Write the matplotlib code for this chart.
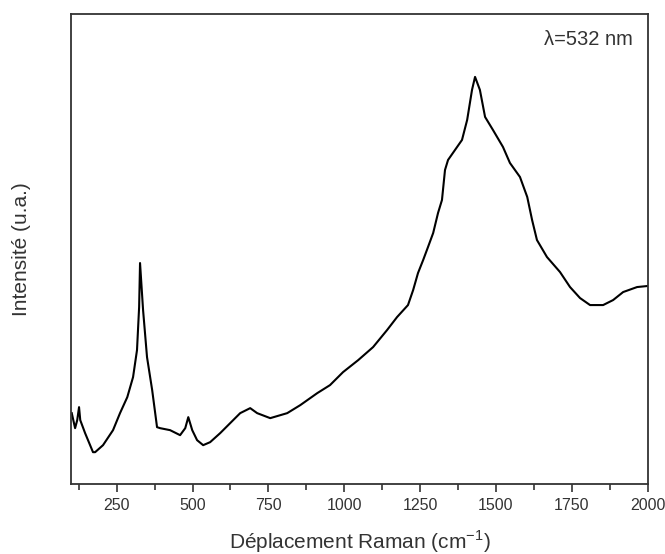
import numpy as np
import matplotlib
matplotlib.use("Agg")
import matplotlib.pyplot as plt
from matplotlib.ticker import MultipleLocator

plt.rcParams['font.family'] = ['Liberation Sans', 'DejaVu Sans']

# Raman shift (cm-1) and intensity (a.u.)
shift = [102, 113, 120, 126, 130, 146, 172, 179, 205, 238, 261, 285, 304, 317,
         324, 327, 337, 350, 367, 383, 393, 426, 459, 476, 486, 499, 515, 535,
         558, 591, 624, 657, 690, 713, 756, 812, 855, 911, 953, 996, 1046, 1095,
         1141, 1174, 1210, 1227, 1243, 1260, 1276, 1293, 1309, 1322, 1332, 1342,
         1365, 1388, 1405, 1421, 1431, 1447, 1464, 1490, 1523, 1546, 1579, 1603,
         1619, 1635, 1668, 1711, 1744, 1777, 1810, 1853, 1886, 1919, 1965, 1998]
intensity = [71, 56, 64, 77, 64, 51, 32, 32, 39, 54, 71, 87, 107, 134,
             177, 221, 174, 127, 94, 57, 56, 54, 49, 56, 67, 54, 44, 39,
             42, 51, 61, 71, 76, 71, 66, 71, 79, 91, 99, 112, 124, 137,
             154, 167, 179, 194, 211, 224, 237, 251, 271, 284, 314, 324,
             334, 344, 364, 394, 407, 394, 367, 354, 337, 321, 307, 287,
             264, 244, 227, 212, 197, 186, 179, 179, 184, 192, 197, 198]

txt = '#333333'

fig = plt.figure(figsize=(6.65, 5.54), dpi=100)
ax = fig.add_axes([0.107, 0.126, 0.867, 0.849])

ax.plot(shift, intensity, color='black', lw=1.5)

ax.set_xlim(100, 2000)
ax.set_ylim(0, 470)
ax.xaxis.set_major_locator(MultipleLocator(250))
ax.xaxis.set_minor_locator(MultipleLocator(125))
ax.set_yticks([])
ax.tick_params(axis='x', which='major', direction='out', length=6, width=1.2,
               colors=txt, labelsize=11.5, pad=4)
ax.tick_params(axis='x', which='minor', direction='out', length=4, width=1.2, colors=txt)
for s in ax.spines.values():
    s.set_color('#333333')
    s.set_linewidth(1.3)

ax.set_xlabel('Déplacement Raman (cm$^{\\mathregular{-1}}$)', fontsize=15, color=txt)
ax.xaxis.set_label_coords(0.5, -0.095)
ax.set_ylabel('Intensité (u.a.)', fontsize=15, color=txt)
ax.yaxis.set_label_coords(-0.07, 0.5)
ax.text(0.974, 0.945, 'λ=532 nm', transform=ax.transAxes, ha='right', va='center',
        fontsize=14.5, color=txt)

fig.savefig('out.png', dpi=100)
